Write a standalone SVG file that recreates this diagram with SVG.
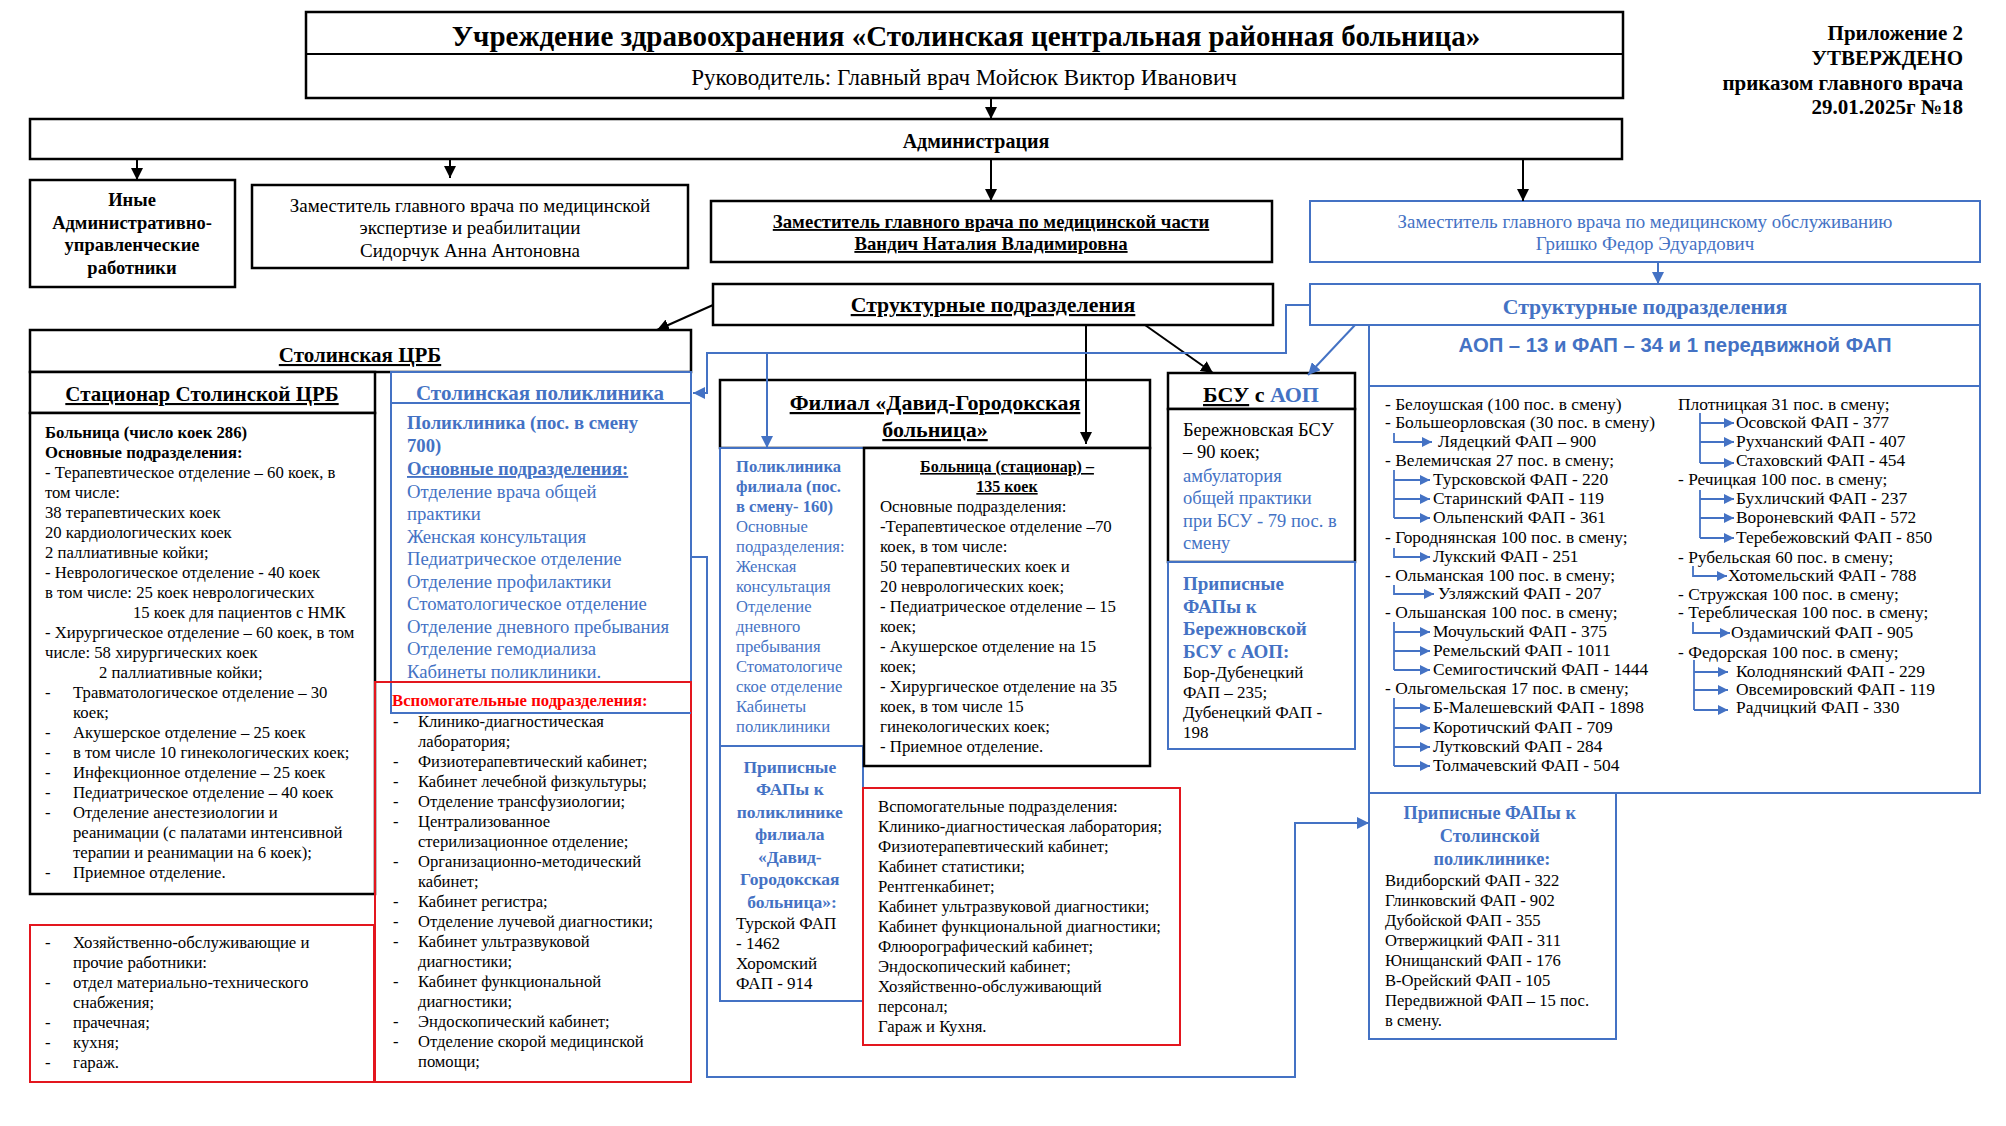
<svg xmlns="http://www.w3.org/2000/svg" width="2006" height="1126" viewBox="0 0 2006 1126">
<defs>
<style>
text{font-family:"Liberation Serif","Times New Roman",serif;fill:#000}
.b{font-weight:bold}
.u{text-decoration:underline}
.bl{fill:#4472C4}
.rd{fill:#FF0000}
.m{text-anchor:middle}
.e{text-anchor:end}
.sans{font-family:"Liberation Sans",Arial,sans-serif}
.bx{fill:#fff;stroke:#000;stroke-width:2.5}
.bb{fill:#fff;stroke:#4472C4;stroke-width:2}
.rb{fill:none;stroke:#E3161E;stroke-width:2}
.ln{fill:none;stroke:#000;stroke-width:2}
.lb{fill:none;stroke:#4472C4;stroke-width:2}
.lbs{fill:none;stroke:#4472C4;stroke-width:1.8}
</style>
<marker id="ak" viewBox="0 0 10 10" refX="10" refY="5" markerWidth="12" markerHeight="12" markerUnits="userSpaceOnUse" orient="auto"><path d="M0,0 L10,5 L0,10 z" fill="#000"/></marker>
<marker id="abl" viewBox="0 0 10 10" refX="10" refY="5" markerWidth="12" markerHeight="12" markerUnits="userSpaceOnUse" orient="auto"><path d="M0,0 L10,5 L0,10 z" fill="#4472C4"/></marker>
<marker id="as" viewBox="0 0 10 10" refX="10" refY="5" markerWidth="10" markerHeight="10" markerUnits="userSpaceOnUse" orient="auto"><path d="M0,0 L10,5 L0,10 z" fill="#4472C4"/></marker>
</defs>
<rect width="2006" height="1126" fill="#fff"/>

<g id="approval">
<text class="b e" font-size="21"><tspan x="1963" y="40">Приложение 2</tspan><tspan x="1963" y="65">УТВЕРЖДЕНО</tspan><tspan x="1963" y="90">приказом главного врача</tspan><tspan x="1963" y="114">29.01.2025г №18</tspan></text>
</g>

<g id="head">
<rect class="bx" x="306" y="12" width="1317" height="86"/>
<line class="ln" x1="306" y1="54" x2="1623" y2="54"/>
<text class="b m" x="966" y="46" font-size="29">Учреждение здравоохранения «Столинская центральная районная больница»</text>
<text class="m" x="964" y="85" font-size="23">Руководитель: Главный врач Мойсюк Виктор Иванович</text>
</g>

<g id="admin">
<rect class="bx" x="30" y="119" width="1592" height="40"/>
<text class="b m" x="976" y="148" font-size="20">Администрация</text>
</g>

<g id="other-staff">
<rect class="bx" x="30" y="180" width="205" height="107"/>
<text class="b m" font-size="18.5"><tspan x="132" y="206">Иные</tspan><tspan x="132" y="229">Административно-</tspan><tspan x="132" y="251">управленческие</tspan><tspan x="132" y="274">работники</tspan></text>
</g>

<g id="deputy-expertise">
<rect class="bx" x="252" y="185" width="436" height="83"/>
<text class="m" font-size="19"><tspan x="470" y="212">Заместитель главного врача по медицинской</tspan><tspan x="470" y="234">экспертизе и реабилитации</tspan><tspan x="470" y="257">Сидорчук Анна Антоновна</tspan></text>
</g>

<g id="deputy-medical">
<rect class="bx" x="711" y="201" width="561" height="61"/>
<text class="b u m" font-size="18.8"><tspan x="991" y="228">Заместитель главного врача по медицинской части</tspan><tspan x="991" y="250">Вандич Наталия Владимировна</tspan></text>
</g>

<g id="deputy-service">
<rect class="bb" x="1310" y="201" width="670" height="61"/>
<text class="m bl" font-size="18.9"><tspan x="1645" y="228">Заместитель главного врача по медицинскому обслуживанию</tspan><tspan x="1645" y="250">Гришко Федор Эдуардович</tspan></text>
</g>

<g id="struct-black">
<rect class="bx" x="713" y="284" width="560" height="41"/>
<text class="b u m" x="993" y="312" font-size="21.8">Структурные подразделения</text>
</g>

<g id="struct-blue">
<rect class="bb" x="1310" y="284" width="670" height="41"/>
<text class="b m bl" x="1645" y="314" font-size="21.8">Структурные подразделения</text>
</g>

<g id="crb">
<rect class="bx" x="30" y="330" width="661" height="42"/>
<text class="b u m" x="360" y="362" font-size="21">Столинская ЦРБ</text>
</g>

<g id="stationary">
<rect class="bx" x="30" y="372" width="345" height="41"/>
<text class="b u m" x="202" y="401" font-size="21">Стационар Столинской ЦРБ</text>
<rect class="bx" x="30" y="413" width="345" height="481"/>
<text font-size="16.7">
<tspan class="b" x="45" y="438">Больница (число коек 286)</tspan>
<tspan class="b" x="45" y="458">Основные подразделения:</tspan>
<tspan x="45" y="478">- Терапевтическое отделение –  60 коек, в</tspan>
<tspan x="45" y="498">том числе:</tspan>
<tspan x="45" y="518">38 терапевтических коек</tspan>
<tspan x="45" y="538">20 кардиологических коек</tspan>
<tspan x="45" y="558">2 паллиативные койки;</tspan>
<tspan x="45" y="578">- Неврологическое отделение - 40 коек</tspan>
<tspan x="45" y="598">в том числе: 25 коек неврологических</tspan>
<tspan x="133" y="618">15 коек для пациентов с НМК</tspan>
<tspan x="45" y="638">- Хирургическое отделение – 60 коек, в том</tspan>
<tspan x="45" y="658">числе: 58 хирургических коек</tspan>
<tspan x="99" y="678">2 паллиативные койки;</tspan>
<tspan x="45" y="698">-</tspan><tspan x="73" y="698">Травматологическое отделение – 30</tspan>
<tspan x="73" y="718">коек;</tspan>
<tspan x="45" y="738">-</tspan><tspan x="73" y="738">Акушерское  отделение  – 25 коек</tspan>
<tspan x="45" y="758">-</tspan><tspan x="73" y="758">в том числе 10 гинекологических коек;</tspan>
<tspan x="45" y="778">-</tspan><tspan x="73" y="778">Инфекционное отделение –  25 коек</tspan>
<tspan x="45" y="798">-</tspan><tspan x="73" y="798">Педиатрическое отделение –  40 коек</tspan>
<tspan x="45" y="818">-</tspan><tspan x="73" y="818">Отделение анестезиологии и</tspan>
<tspan x="73" y="838">реанимации (с палатами интенсивной</tspan>
<tspan x="73" y="858">терапии и реанимации на 6 коек);</tspan>
<tspan x="45" y="878">-</tspan><tspan x="73" y="878">Приемное отделение.</tspan>
</text>
</g>

<g id="crb-household">
<rect class="rb" x="30" y="925" width="344" height="157"/>
<text font-size="16.8">
<tspan x="45" y="948">-</tspan><tspan x="73" y="948">Хозяйственно-обслуживающие и</tspan>
<tspan x="73" y="968">прочие работники:</tspan>
<tspan x="45" y="988">-</tspan><tspan x="73" y="988">отдел материально-технического</tspan>
<tspan x="73" y="1008">снабжения;</tspan>
<tspan x="45" y="1028">-</tspan><tspan x="73" y="1028">прачечная;</tspan>
<tspan x="45" y="1048">-</tspan><tspan x="73" y="1048">кухня;</tspan>
<tspan x="45" y="1068">-</tspan><tspan x="73" y="1068">гараж.</tspan>
</text>
</g>

<g id="polyclinic">
<rect class="bb" x="391" y="372" width="300" height="31"/>
<text class="b u m bl" x="540" y="400" font-size="21">Столинская поликлиника</text>
<rect class="bb" x="391" y="403" width="300" height="310" fill="none"/>
<text class="bl" font-size="18.7">
<tspan class="b" x="407" y="429">Поликлиника (пос. в смену</tspan>
<tspan class="b" x="407" y="452">700)</tspan>
<tspan class="b u" x="407" y="475">Основные подразделения:</tspan>
<tspan x="407" y="498">Отделение врача общей</tspan>
<tspan x="407" y="520">практики</tspan>
<tspan x="407" y="543">Женская консультация</tspan>
<tspan x="407" y="565">Педиатрическое отделение</tspan>
<tspan x="407" y="588">Отделение профилактики</tspan>
<tspan x="407" y="610">Стоматологическое отделение</tspan>
<tspan x="407" y="633">Отделение дневного пребывания</tspan>
<tspan x="407" y="655">Отделение гемодиализа</tspan>
<tspan x="407" y="678">Кабинеты поликлиники.</tspan>
</text>
</g>

<g id="crb-auxiliary">
<rect class="rb" x="375" y="682" width="316" height="400"/>
<line x1="391" y1="713" x2="691" y2="713" stroke="#4472C4" stroke-width="2"/>
<text class="b rd" x="392" y="706" font-size="16.7">Вспомогательные подразделения:</text>
<text font-size="16.6">
<tspan x="393" y="727">-</tspan><tspan x="418" y="727">Клинико-диагностическая</tspan>
<tspan x="418" y="747">лаборатория;</tspan>
<tspan x="393" y="767">-</tspan><tspan x="418" y="767">Физиотерапевтический кабинет;</tspan>
<tspan x="393" y="787">-</tspan><tspan x="418" y="787">Кабинет лечебной физкультуры;</tspan>
<tspan x="393" y="807">-</tspan><tspan x="418" y="807">Отделение трансфузиологии;</tspan>
<tspan x="393" y="827">-</tspan><tspan x="418" y="827">Централизованное</tspan>
<tspan x="418" y="847">стерилизационное отделение;</tspan>
<tspan x="393" y="867">-</tspan><tspan x="418" y="867">Организационно-методический</tspan>
<tspan x="418" y="887">кабинет;</tspan>
<tspan x="393" y="907">-</tspan><tspan x="418" y="907">Кабинет регистра;</tspan>
<tspan x="393" y="927">-</tspan><tspan x="418" y="927">Отделение лучевой диагностики;</tspan>
<tspan x="393" y="947">-</tspan><tspan x="418" y="947">Кабинет ультразвуковой</tspan>
<tspan x="418" y="967">диагностики;</tspan>
<tspan x="393" y="987">-</tspan><tspan x="418" y="987">Кабинет функциональной</tspan>
<tspan x="418" y="1007">диагностики;</tspan>
<tspan x="393" y="1027">-</tspan><tspan x="418" y="1027">Эндоскопический кабинет;</tspan>
<tspan x="393" y="1047">-</tspan><tspan x="418" y="1047">Отделение скорой медицинской</tspan>
<tspan x="418" y="1067">помощи;</tspan>
</text>
</g>

<g id="filial">
<rect class="bx" x="720" y="380" width="430" height="68"/>
<text class="b u m" font-size="22"><tspan x="935" y="410">Филиал «Давид-Городокская</tspan><tspan x="935" y="437">больница»</tspan></text>
</g>

<g id="filial-polyclinic">
<rect class="bb" x="720" y="448" width="144" height="298"/>
<text class="bl" font-size="16.6">
<tspan class="b" x="736" y="472">Поликлиника</tspan>
<tspan class="b" x="736" y="492">филиала (пос.</tspan>
<tspan class="b" x="736" y="512">в смену- 160)</tspan>
<tspan x="736" y="532">Основные</tspan>
<tspan x="736" y="552">подразделения:</tspan>
<tspan x="736" y="572">Женская</tspan>
<tspan x="736" y="592">консультация</tspan>
<tspan x="736" y="612">Отделение</tspan>
<tspan x="736" y="632">дневного</tspan>
<tspan x="736" y="652">пребывания</tspan>
<tspan x="736" y="672">Стоматологиче</tspan>
<tspan x="736" y="692">ское отделение</tspan>
<tspan x="736" y="712">Кабинеты</tspan>
<tspan x="736" y="732">поликлиники</tspan>
</text>
</g>

<g id="filial-fap">
<rect class="bb" x="720" y="746" width="143" height="255"/>
<text class="b m bl" font-size="17.5">
<tspan x="792" y="773">Приписные</tspan>
<tspan x="792" y="795">ФАПы к</tspan>
<tspan x="792" y="818">поликлинике</tspan>
<tspan x="792" y="840">филиала</tspan>
<tspan x="792" y="863">«Давид-</tspan>
<tspan x="792" y="885">Городокская</tspan>
<tspan x="792" y="908">больница»:</tspan>
</text>
<text font-size="17">
<tspan x="736" y="929">Турской ФАП</tspan>
<tspan x="736" y="949">- 1462</tspan>
<tspan x="736" y="969">Хоромский</tspan>
<tspan x="736" y="989">ФАП  - 914</tspan>
</text>
</g>

<g id="filial-hospital">
<rect class="bx" x="864" y="448" width="286" height="318"/>
<text class="b u m" font-size="16"><tspan x="1007" y="472">Больница (стационар) –</tspan><tspan x="1007" y="492">135  коек</tspan></text>
<text font-size="16.8">
<tspan x="880" y="512">Основные подразделения:</tspan>
<tspan x="880" y="532">-Терапевтическое отделение –70</tspan>
<tspan x="880" y="552">коек, в том числе:</tspan>
<tspan x="880" y="572">50 терапевтических коек и</tspan>
<tspan x="880" y="592">20 неврологических коек;</tspan>
<tspan x="880" y="612">- Педиатрическое отделение – 15</tspan>
<tspan x="880" y="632">коек;</tspan>
<tspan x="880" y="652">- Акушерское отделение на 15</tspan>
<tspan x="880" y="672">коек;</tspan>
<tspan x="880" y="692">-  Хирургическое отделение на 35</tspan>
<tspan x="880" y="712">коек, в том числе 15</tspan>
<tspan x="880" y="732">гинекологических коек;</tspan>
<tspan x="880" y="752">- Приемное отделение.</tspan>
</text>
</g>

<g id="filial-auxiliary">
<rect class="rb" x="863" y="788" width="317" height="257"/>
<text font-size="16.7">
<tspan x="878" y="812">Вспомогательные  подразделения:</tspan>
<tspan x="878" y="832">Клинико-диагностическая лаборатория;</tspan>
<tspan x="878" y="852">Физиотерапевтический кабинет;</tspan>
<tspan x="878" y="872">Кабинет статистики;</tspan>
<tspan x="878" y="892">Рентгенкабинет;</tspan>
<tspan x="878" y="912">Кабинет ультразвуковой диагностики;</tspan>
<tspan x="878" y="932">Кабинет функциональной диагностики;</tspan>
<tspan x="878" y="952">Флюорографический кабинет;</tspan>
<tspan x="878" y="972">Эндоскопический кабинет;</tspan>
<tspan x="878" y="992">Хозяйственно-обслуживающий</tspan>
<tspan x="878" y="1012">персонал;</tspan>
<tspan x="878" y="1032">Гараж и Кухня.</tspan>
</text>
</g>

<g id="bsu">
<rect class="bx" x="1168" y="373" width="187" height="36"/>
<text class="b m" x="1261" y="402" font-size="22"><tspan class="u">БСУ</tspan> с <tspan class="bl">АОП</tspan></text>
<rect class="bx" x="1168" y="409" width="187" height="153"/>
<text font-size="18.5">
<tspan x="1183" y="436">Бережновская БСУ</tspan>
<tspan x="1183" y="458">– 90 коек;</tspan>
<tspan class="bl" x="1183" y="482">амбулатория</tspan>
<tspan class="bl" x="1183" y="504">общей практики</tspan>
<tspan class="bl" x="1183" y="527">при БСУ - 79 пос. в</tspan>
<tspan class="bl" x="1183" y="549">смену</tspan>
</text>
</g>

<g id="bsu-fap">
<rect class="bb" x="1168" y="562" width="187" height="187"/>
<text class="b bl" font-size="19">
<tspan x="1183" y="590">Приписные</tspan>
<tspan x="1183" y="613">ФАПы к</tspan>
<tspan x="1183" y="635">Бережновской</tspan>
<tspan x="1183" y="658">БСУ с АОП:</tspan>
</text>
<text font-size="17">
<tspan x="1183" y="678">Бор-Дубенецкий</tspan>
<tspan x="1183" y="698">ФАП – 235;</tspan>
<tspan x="1183" y="718">Дубенецкий ФАП -</tspan>
<tspan x="1183" y="738">198</tspan>
</text>
</g>

<g id="aop">
<rect class="bb" x="1369" y="325" width="611" height="61"/>
<text class="b m bl sans" x="1675" y="352" font-size="20.3">АОП – 13 и ФАП – 34  и 1 передвижной ФАП</text>
<rect class="bb" x="1369" y="386" width="611" height="407"/>
<text font-size="17.4">
<tspan x="1385" y="410">- Белоушская (100 пос. в смену)</tspan>
<tspan x="1385" y="428">- Большеорловская (30 пос. в смену)</tspan>
<tspan x="1438" y="447">Лядецкий  ФАП – 900</tspan>
<tspan x="1385" y="466">- Велемичская 27 пос. в смену;</tspan>
<tspan x="1433" y="485">Турсковской ФАП -  220</tspan>
<tspan x="1433" y="504">Старинский ФАП  - 119</tspan>
<tspan x="1433" y="523">Ольпенский ФАП - 361</tspan>
<tspan x="1385" y="543">- Городнянская  100 пос. в смену;</tspan>
<tspan x="1433" y="562">Лукский ФАП  - 251</tspan>
<tspan x="1385" y="581">- Ольманская  100 пос. в смену;</tspan>
<tspan x="1438" y="599">Узляжский ФАП  - 207</tspan>
<tspan x="1385" y="618">- Ольшанская 100 пос. в смену;</tspan>
<tspan x="1433" y="637">Мочульский ФАП - 375</tspan>
<tspan x="1433" y="656">Ремельский ФАП - 1011</tspan>
<tspan x="1433" y="675">Семигостичский ФАП - 1444</tspan>
<tspan x="1385" y="694">- Ольгомельская  17 пос. в смену;</tspan>
<tspan x="1433" y="713">Б-Малешевский ФАП - 1898</tspan>
<tspan x="1433" y="733">Коротичский ФАП - 709</tspan>
<tspan x="1433" y="752">Лутковский ФАП - 284</tspan>
<tspan x="1433" y="771">Толмачевский ФАП - 504</tspan>
</text>
<text font-size="17.4">
<tspan x="1678" y="410">Плотницкая  31 пос. в смену;</tspan>
<tspan x="1736" y="428">Осовской ФАП - 377</tspan>
<tspan x="1736" y="447">Рухчанский ФАП - 407</tspan>
<tspan x="1736" y="466">Стаховский ФАП  - 454</tspan>
<tspan x="1678" y="485">- Речицкая 100 пос. в смену;</tspan>
<tspan x="1736" y="504">Бухличский ФАП -  237</tspan>
<tspan x="1736" y="523">Вороневский ФАП - 572</tspan>
<tspan x="1736" y="543">Теребежовский ФАП - 850</tspan>
<tspan x="1678" y="563">- Рубельская  60 пос. в смену;</tspan>
<tspan x="1728" y="581">Хотомельский ФАП - 788</tspan>
<tspan x="1678" y="600">- Стружская  100 пос. в смену;</tspan>
<tspan x="1678" y="618">- Тереблическая  100 пос. в смену;</tspan>
<tspan x="1731" y="638">Оздамичский ФАП - 905</tspan>
<tspan x="1678" y="658">- Федорская  100 пос. в смену;</tspan>
<tspan x="1736" y="677">Колоднянский ФАП - 229</tspan>
<tspan x="1736" y="695">Овсемировский ФАП - 119</tspan>
<tspan x="1736" y="713">Радчицкий ФАП - 330</tspan>
</text>
<g id="aop-brackets">
<path class="lbs" d="M1394,433 V442 H1432" marker-end="url(#as)"/>
<path class="lbs" d="M1394,470 V518"/>
<path class="lbs" d="M1394,480 H1430" marker-end="url(#as)"/>
<path class="lbs" d="M1394,499 H1430" marker-end="url(#as)"/>
<path class="lbs" d="M1394,518 H1430" marker-end="url(#as)"/>
<path class="lbs" d="M1394,548 V557 H1430" marker-end="url(#as)"/>
<path class="lbs" d="M1394,585 V594 H1434" marker-end="url(#as)"/>
<path class="lbs" d="M1394,622 V670"/>
<path class="lbs" d="M1394,632 H1430" marker-end="url(#as)"/>
<path class="lbs" d="M1394,651 H1430" marker-end="url(#as)"/>
<path class="lbs" d="M1394,670 H1430" marker-end="url(#as)"/>
<path class="lbs" d="M1394,698 V766"/>
<path class="lbs" d="M1394,708 H1430" marker-end="url(#as)"/>
<path class="lbs" d="M1394,728 H1430" marker-end="url(#as)"/>
<path class="lbs" d="M1394,747 H1430" marker-end="url(#as)"/>
<path class="lbs" d="M1394,766 H1430" marker-end="url(#as)"/>
<path class="lbs" d="M1700,413 V463"/>
<path class="lbs" d="M1700,423 H1734" marker-end="url(#as)"/>
<path class="lbs" d="M1700,442 H1734" marker-end="url(#as)"/>
<path class="lbs" d="M1700,463 H1734" marker-end="url(#as)"/>
<path class="lbs" d="M1700,490 V538"/>
<path class="lbs" d="M1700,499 H1734" marker-end="url(#as)"/>
<path class="lbs" d="M1700,518 H1734" marker-end="url(#as)"/>
<path class="lbs" d="M1700,538 H1734" marker-end="url(#as)"/>
<path class="lbs" d="M1693,566 V576 H1727" marker-end="url(#as)"/>
<path class="lbs" d="M1693,622 V633 H1730" marker-end="url(#as)"/>
<path class="lbs" d="M1694,660 V710"/>
<path class="lbs" d="M1694,672 H1728" marker-end="url(#as)"/>
<path class="lbs" d="M1694,690 H1728" marker-end="url(#as)"/>
<path class="lbs" d="M1694,710 H1728" marker-end="url(#as)"/>
</g>
</g>

<g id="stolin-fap">
<rect class="bb" x="1369" y="793" width="247" height="246"/>
<text class="b m bl" font-size="18.3">
<tspan x="1492" y="819">Приписные ФАПы к</tspan>
<tspan x="1492" y="842">Столинской</tspan>
<tspan x="1492" y="865">поликлинике:</tspan>
</text>
<text font-size="16.6">
<tspan x="1385" y="886">Видиборский ФАП - 322</tspan>
<tspan x="1385" y="906">Глинковский ФАП - 902</tspan>
<tspan x="1385" y="926">Дубойской ФАП - 355</tspan>
<tspan x="1385" y="946">Отвержицкий ФАП - 311</tspan>
<tspan x="1385" y="966">Юнищанский ФАП -  176</tspan>
<tspan x="1385" y="986">В-Орейский ФАП - 105</tspan>
<tspan x="1385" y="1006">Передвижной ФАП – 15 пос.</tspan>
<tspan x="1385" y="1026">в смену.</tspan>
</text>
</g>

<g id="connectors">
<line class="ln" x1="991" y1="98" x2="991" y2="119" marker-end="url(#ak)"/>
<line class="ln" x1="137" y1="159" x2="137" y2="180" marker-end="url(#ak)"/>
<line class="ln" x1="450" y1="159" x2="450" y2="178" marker-end="url(#ak)"/>
<line class="ln" x1="991" y1="159" x2="991" y2="201" marker-end="url(#ak)"/>
<line class="ln" x1="1523" y1="159" x2="1523" y2="201" marker-end="url(#ak)"/>
<line class="ln" x1="713" y1="305" x2="657" y2="330" marker-end="url(#ak)"/>
<line class="ln" x1="1086" y1="325" x2="1086" y2="444" marker-end="url(#ak)"/>
<line class="ln" x1="1145" y1="325" x2="1213" y2="373" marker-end="url(#ak)"/>
<line class="lb" x1="1658" y1="262" x2="1658" y2="284" marker-end="url(#abl)"/>
<path class="lb" d="M1310,305 H1286 V353 H707 V393 H693" marker-end="url(#abl)"/>
<path class="lb" d="M767,353 V448" marker-end="url(#abl)"/>
<line class="lb" x1="1355" y1="325" x2="1308" y2="375" marker-end="url(#abl)"/>
<path class="lb" d="M691,557 H707 V1077 H1295 V823 H1369" marker-end="url(#abl)"/>
</g>
</svg>
